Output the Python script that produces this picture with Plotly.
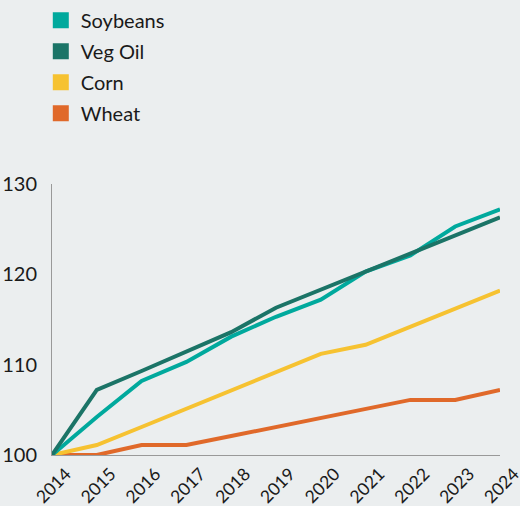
import plotly.graph_objects as go

years = list(range(2014, 2025))
soybeans = [100, 104.2, 108.2, 110.3, 113.1, 115.3, 117.2, 120.3, 122.1, 125.3, 127.2]
veg_oil = [100, 107.2, 109.3, 111.4, 113.6, 116.3, 118.3, 120.3, 122.2, 124.2, 126.3]
corn = [100, 101.1, 103.1, 105.1, 107.2, 109.2, 111.2, 112.2, 114.2, 116.2, 118.2]
wheat = [100, 100, 101.1, 101.1, 102.1, 103.1, 104.1, 105.1, 106.1, 106.1, 107.2]

series = [
    ("Soybeans", soybeans, "#00A99D"),
    ("Veg Oil", veg_oil, "#1B7467"),
    ("Corn", corn, "#F6C231"),
    ("Wheat", wheat, "#E0692A"),
]

BG = "#EBEEEF"
FONT = "Lato, 'Noto Sans', sans-serif"

fig = go.Figure()
for name, vals, col in [series[3], series[2], series[0], series[1]]:
    fig.add_trace(go.Scatter(x=years, y=vals, mode="lines", name=name,
                             line=dict(color=col, width=4), showlegend=False,
                             hoverinfo="x+y+name"))
for i, (name, vals, col) in enumerate(series):
    fig.add_trace(go.Scatter(x=[None], y=[None], mode="markers", name=name,
                             legendgroup=f"g{i}",
                             marker=dict(symbol="square", size=16, color=col),
                             showlegend=True))

fig.update_layout(
    width=520, height=506,
    paper_bgcolor=BG, plot_bgcolor=BG,
    margin=dict(l=52, r=20, t=184, b=51, autoexpand=False),
    font=dict(family=FONT, color="#1a1a1a", size=16),
    legend=dict(x=-0.025, y=1.676, xanchor="left", yanchor="top",
                font=dict(size=20, color="#1a1a1a"), bgcolor="rgba(0,0,0,0)",
                tracegroupgap=2, itemsizing="trace"),
    xaxis=dict(range=[2014, 2024], tickmode="array", tickvals=years,
               ticktext=[str(y) for y in years], tickangle=-45,
               showgrid=False, zeroline=False, showline=True,
               linecolor="#999999", linewidth=1, ticks="",
               ticklabelshift=14, ticklabelstandoff=1,
               ticklabeloverflow="allow",
               tickfont=dict(size=17.5), automargin=False),
    yaxis=dict(range=[100, 130], tickvals=[100, 110, 120, 130],
               showgrid=False, zeroline=False, showline=True,
               linecolor="#999999", linewidth=1, ticks="",
               ticklabelstandoff=10, tickfont=dict(size=20), automargin=False),
    showlegend=True,
)

fig.write_html("out.html")
